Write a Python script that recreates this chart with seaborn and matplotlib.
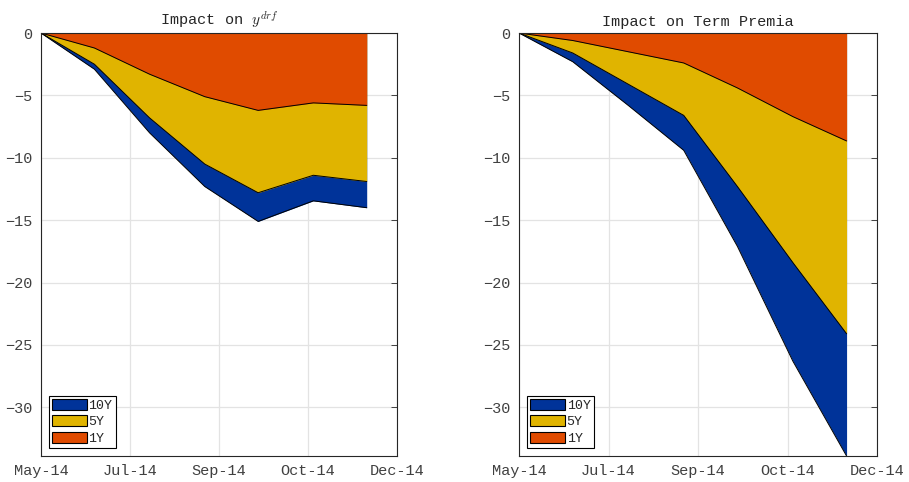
import numpy as np
import pandas as pd
import matplotlib
matplotlib.use("Agg")
import matplotlib.pyplot as plt
import matplotlib.dates as mdates
import matplotlib.patches as mpatches
import seaborn as sns

# Monthly observation dates (end of month)
dates = ["2014-05-31", "2014-06-30", "2014-07-31", "2014-08-31",
         "2014-09-30", "2014-10-31", "2014-11-30"]

# Impact on y^drf by maturity
drf_10y = [0, -2.9, -8.0, -12.3, -15.1, -13.45, -14.0]
drf_5y = [0, -2.5, -6.8, -10.5, -12.8, -11.4, -11.9]
drf_1y = [0, -1.2, -3.3, -5.1, -6.2, -5.6, -5.8]

# Impact on term premia by maturity
tp_10y = [0, -2.3, -5.8, -9.4, -17.1, -26.3, -33.9]
tp_5y = [0, -1.6, -4.1, -6.6, -12.3, -18.4, -24.1]
tp_1y = [0, -0.6, -1.5, -2.4, -4.4, -6.7, -8.65]

tenors = ["10Y", "5Y", "1Y"]
titles = ["Impact on $y^{drf}$", "Impact on Term Premia"]
yticks = [0, -5, -10, -15, -20, -25, -30]

sns.set_style("white")
plt.rcParams["font.family"] = ["Liberation Mono", "DejaVu Sans"]
plt.rcParams["mathtext.fontset"] = "cm"

colors = {"10Y": "#003399", "5Y": "#E0B400", "1Y": "#E04B00"}
tick_col = "#404040"

x = pd.to_datetime(dates)
panels = [
    {"10Y": drf_10y, "5Y": drf_5y, "1Y": drf_1y},
    {"10Y": tp_10y, "5Y": tp_5y, "1Y": tp_1y},
]

fig = plt.figure(figsize=(9.09, 4.82), dpi=100)
axes = [fig.add_axes([0.0451, 0.0539, 0.3916, 0.8776]),
        fig.add_axes([0.5710, 0.0539, 0.3938, 0.8776])]

ymin = min(tp_10y)
x0 = mdates.date2num(x[0])
x1 = x0 + 200
xt = np.linspace(x0, x1, 5)

for ax, series, title in zip(axes, panels, titles):
    # overlapping areas drawn from the largest magnitude to the smallest
    for t in tenors:
        ax.fill_between(x, 0, series[t], color=colors[t], lw=0, zorder=2)
    df = pd.DataFrame({"date": np.tile(x, 3),
                       "value": np.concatenate([series[t] for t in tenors]),
                       "tenor": np.repeat(tenors, len(x))})
    for t in tenors:
        sns.lineplot(data=df[df["tenor"] == t], x="date", y="value",
                     color="black", lw=0.7, ax=ax, zorder=3, legend=False)

    ax.set_xlim(x0, x1)
    ax.set_ylim(ymin, 0)
    ax.set_xticks(xt)
    ax.xaxis.set_major_formatter(mdates.DateFormatter("%b-%y"))
    ax.set_yticks(yticks)
    ax.set_xlabel("")
    ax.set_ylabel("")
    ax.grid(True, color="#e3e3e3", lw=0.9, zorder=0)
    ax.set_axisbelow(True)
    ax.tick_params(direction="in", top=True, right=True, length=4,
                   width=0.7, colors=tick_col, labelsize=11, pad=6)
    for s in ax.spines.values():
        s.set_color("#262626")
        s.set_linewidth(0.8)
        s.set_zorder(4)
    ax.set_title(title, fontsize=11, pad=5)

    handles = [mpatches.Patch(facecolor=colors[t], edgecolor="black", lw=0.8,
                              label=t) for t in tenors]
    leg = ax.legend(handles=handles, loc="lower left", fontsize=9.5,
                    fancybox=False, framealpha=1, edgecolor="black",
                    handlelength=2.6, handleheight=0.9, handletextpad=0.15,
                    borderpad=0.25, labelspacing=0.25, borderaxespad=0.6)
    leg.get_frame().set_linewidth(0.8)

fig.savefig("out.png", dpi=100)
